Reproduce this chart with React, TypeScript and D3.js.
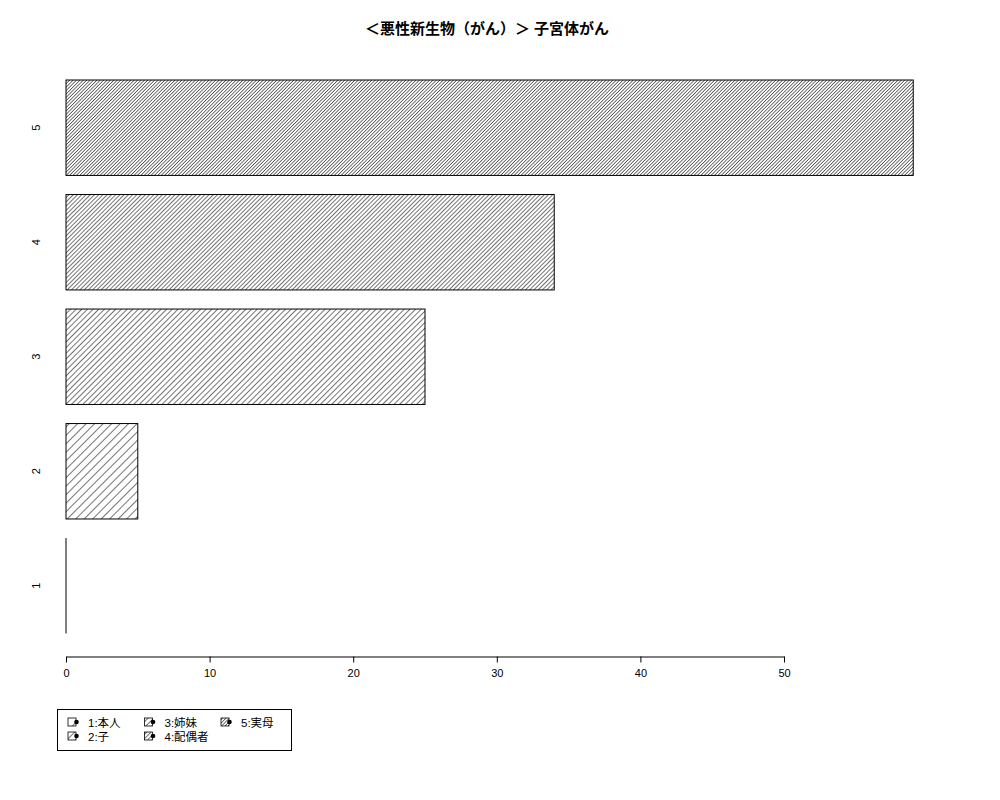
import React, { useRef, useEffect } from 'react';
import { select, scaleLinear, scaleBand, axisBottom } from 'd3';

const title = '＜悪性新生物（がん）＞ 子宮体がん';
const categories = ['1', '2', '3', '4', '5'];
const values = [0, 5, 25, 34, 59];
const densities = [1, 2, 3, 4, 5];
const xTicks = [0, 10, 20, 30, 40, 50];
const legendLabels = ['1:本人', '2:子', '3:姉妹', '4:配偶者', '5:実母'];

const FONT = '"Liberation Sans", "Noto Sans CJK JP", sans-serif';

const App = () => {
  const axisRef = useRef(null);

  const x = scaleLinear().domain([0, 50]).range([66, 784]);
  const y = scaleBand()
    .domain([...categories].reverse())
    .range([80, 633.5])
    .paddingInner(0.1667)
    .paddingOuter(0);

  useEffect(() => {
    const g = select(axisRef.current);
    const xAxis = axisBottom(x).tickValues(xTicks).tickSize(6).tickSizeOuter(0);
    // @ts-ignore
    g.call(xAxis);
    g.select('.domain').attr('stroke', '#000');
    g.selectAll('.tick line').attr('stroke', '#000');
    g.selectAll('.tick text')
      .attr('font-family', FONT)
      .attr('font-size', 11)
      .attr('fill', '#000')
      .attr('dy', '1.05em');
  }, []);

  // legend: column-major, 2 rows
  const legendItems = legendLabels.map((label, i) => ({
    label,
    density: densities[i],
    col: Math.floor(i / 2),
    row: i % 2,
  }));

  return (
    <svg
      width={1000}
      height={800}
      style={{ position: 'absolute', left: 0, top: 0, background: '#fff' }}
    >
      <defs>
        {densities.map((d) => (
          <pattern
            key={d}
            id={`hatch${d}`}
            patternUnits="userSpaceOnUse"
            width={12 / d}
            height={12 / d}
            patternTransform="rotate(45)"
          >
            <line x1={0} y1={0} x2={0} y2={12 / d} stroke="#000" strokeWidth={1.1} />
          </pattern>
        ))}
      </defs>

      <text
        x={487}
        y={34}
        textAnchor="middle"
        fontFamily={FONT}
        fontWeight="bold"
        fontSize={15}
      >
        {title}
      </text>

      {categories.map((c, i) =>
        values[i] > 0 ? (
          <rect
            key={c}
            x={x(0)}
            y={y(c)}
            width={x(values[i]) - x(0)}
            height={y.bandwidth()}
            fill={`url(#hatch${densities[i]})`}
            stroke="#000"
            strokeWidth={1}
          />
        ) : (
          <line
            key={c}
            x1={x(0)}
            x2={x(0)}
            y1={y(c)}
            y2={(y(c) ?? 0) + y.bandwidth()}
            stroke="#000"
            strokeWidth={1}
          />
        )
      )}

      {categories.map((c) => {
        const cy = (y(c) ?? 0) + y.bandwidth() / 2;
        return (
          <text
            key={c}
            transform={`translate(40,${cy}) rotate(-90)`}
            textAnchor="middle"
            fontFamily={FONT}
            fontSize={11}
          >
            {c}
          </text>
        );
      })}

      <g ref={axisRef} transform="translate(0,656.5)" />

      <rect x={57.5} y={709.5} width={234} height={41} fill="none" stroke="#000" />
      {legendItems.map((it) => {
        const lx = 68 + it.col * 76.5;
        const ly = 718 + it.row * 14;
        return (
          <g key={it.label}>
            <rect
              x={lx}
              y={ly}
              width={8}
              height={8}
              fill={`url(#hatch${it.density})`}
              stroke="#000"
              strokeWidth={0.8}
            />
            <circle cx={lx + 8.5} cy={ly + 4} r={2.3} fill="#000" />
            <text x={lx + 20} y={ly + 8.5} fontFamily={FONT} fontSize={11.5}>
              {it.label}
            </text>
          </g>
        );
      })}
    </svg>
  );
};

export default App;
